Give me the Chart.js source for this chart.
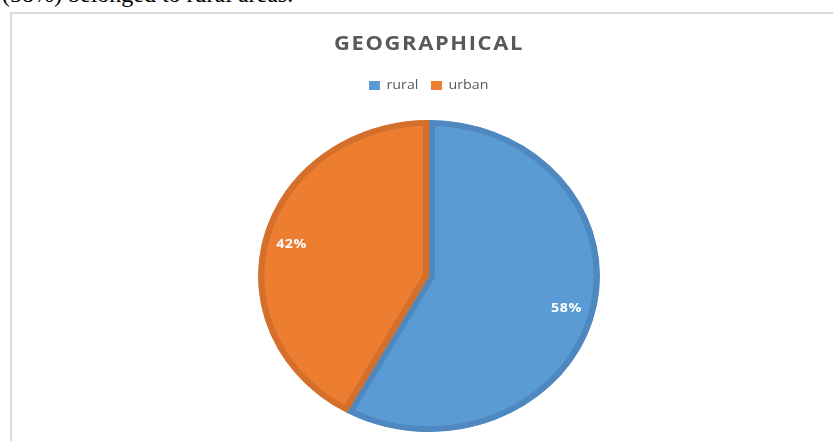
<!DOCTYPE html>
<html>
<head>
<meta charset="utf-8">
<script src="https://cdn.jsdelivr.net/npm/chart.js@4.4.1/dist/chart.umd.min.js"></script>
<style>
  body { margin: 0; background: #fff; width: 833px; height: 441px; overflow: hidden; position: relative; }
  #lead { position: absolute; left: 2px; top: -19px; font: 24px "Liberation Serif", "Times New Roman", serif; color: #000; white-space: nowrap; }
  #box { position: absolute; left: 10px; top: 12px; width: 830px; height: 440px; border-left: 2px solid #d9d9d9; border-top: 2px solid #d9d9d9; }
  #wrap { position: absolute; left: 0; top: 0; width: 833px; height: 441px; }
</style>
</head>
<body>
<div id="lead">(58%) belonged to rural areas.</div>
<div id="box"></div>
<div id="wrap"><canvas id="geo"></canvas></div>
<script>
// data
const categories = ['rural', 'urban'];
const shares = [58, 42];
const fills = ['#5b9bd5', '#ed7d31'];
const edges = ['#4f88bf', '#d5702c'];

// the original chart is stretched sideways (the pie is an ellipse)
const stretchX = 1.096;

const stretchPlugin = {
  id: 'stretch',
  afterInit(chart) {
    // spaced-out title like the office chart style
    const tb = chart.titleBlock;
    const draw = tb.draw.bind(tb);
    tb.draw = function () {
      chart.ctx.letterSpacing = '1.5px';
      draw();
      chart.ctx.letterSpacing = '0px';
    };
  },
  beforeDraw(chart) {
    const ctx = chart.ctx;
    const cx = (chart.chartArea.left + chart.chartArea.right) / 2;
    ctx.save();
    ctx.translate(cx, 0);
    ctx.scale(stretchX, 1);
    ctx.translate(-cx, 0);
  },
  afterDatasetsDraw(chart) {
    const ctx = chart.ctx;
    const meta = chart.getDatasetMeta(0);
    const total = shares.reduce((a, b) => a + b, 0);
    ctx.save();
    ctx.fillStyle = '#ffffff';
    ctx.font = 'bold 13px "Open Sans", sans-serif';
    ctx.letterSpacing = '0.5px';
    ctx.textAlign = 'center';
    ctx.textBaseline = 'middle';
    meta.data.forEach((arc, i) => {
      const mid = (arc.startAngle + arc.endAngle) / 2;
      const r = arc.outerRadius * 0.83;
      ctx.fillText(Math.round(shares[i] / total * 100) + '%',
        arc.x + Math.cos(mid) * r, arc.y + Math.sin(mid) * r);
    });
    ctx.restore();
  },
  afterDraw(chart) {
    chart.ctx.restore();
  }
};

const baseLabels = Chart.overrides.pie.plugins.legend.labels.generateLabels;

new Chart('geo', {
  type: 'pie',
  data: {
    labels: categories,
    datasets: [{
      data: shares,
      backgroundColor: fills,
      borderColor: edges,
      borderWidth: 5.5,
      borderAlign: 'inner',
      hoverBorderWidth: 5.5
    }]
  },
  options: {
    responsive: true,
    maintainAspectRatio: false,
    animation: false,
    layout: { padding: { left: 25, right: 0, top: 0, bottom: 9 } },
    plugins: {
      tooltip: { enabled: false },
      title: {
        display: true,
        text: 'GEOGRAPHICAL',
        color: '#595959',
        font: { size: 20, weight: 'bold', family: '"Open Sans", sans-serif', lineHeight: 1.2 },
        padding: { top: 32, bottom: 11 }
      },
      legend: {
        display: true,
        position: 'top',
        weight: 1600,
        labels: {
          color: '#595959',
          font: { size: 13, family: '"Open Sans", sans-serif' },
          boxWidth: 9,
          boxHeight: 8,
          padding: 12,
          generateLabels(chart) {
            // plain filled squares, no thick slice border
            return baseLabels(chart).map(item =>
              Object.assign(item, { lineWidth: 1, strokeStyle: item.fillStyle }));
          }
        }
      },
      // empty subtitle used as a gap between legend and pie
      subtitle: {
        display: true,
        text: '',
        weight: 500,
        font: { size: 1, lineHeight: 1 },
        padding: { top: 0, bottom: 17 }
      }
    }
  },
  plugins: [stretchPlugin]
});
</script>
</body>
</html>
